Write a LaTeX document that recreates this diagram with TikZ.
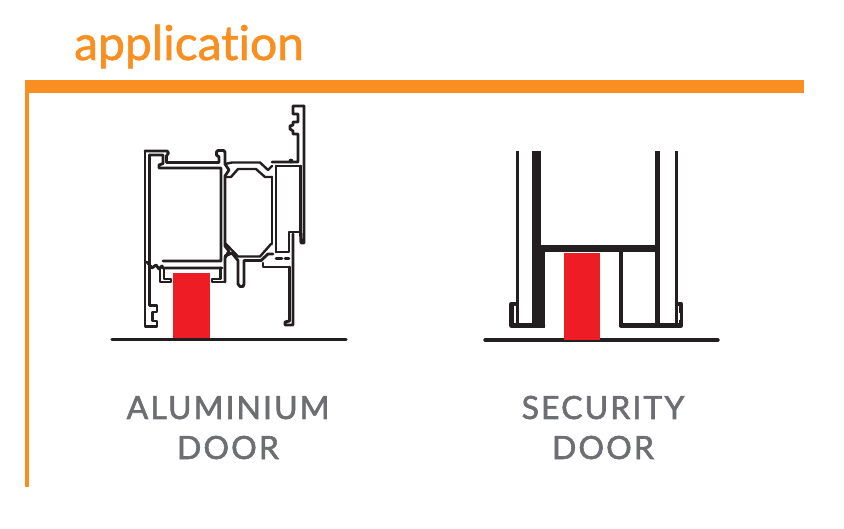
\documentclass[tikz,border=0pt]{standalone}
\usepackage{fontspec}
\setmainfont[Ligatures=NoCommon,FakeBold=1.3]{Lato}
\newfontfamily\spaced[LetterSpace=6.5,FakeBold=1.8]{Lato}
\definecolor{orng}{HTML}{F88F20}
\definecolor{ink}{HTML}{231F20}
\definecolor{redb}{HTML}{EE1C25}
\definecolor{txt}{HTML}{6D6E71}
\tikzset{
 prof/.style={draw=ink,line width=2.9pt,line join=round,line cap=round},
 thin/.style={draw=ink,line width=2.4pt,line join=round,line cap=round},
 base/.style={draw=ink,line width=3.4pt,line cap=round},
 lbl/.style={text=txt,font=\spaced\fontsize{32}{32}\selectfont,inner sep=0pt,anchor=base},
}
\begin{document}
\begin{tikzpicture}[x=1pt,y=-1pt]
\useasboundingbox (0,0) rectangle (844,529);
% frame
\fill[orng] (25,80) rectangle (804,93);
\fill[orng] (25,80) rectangle (29,487);
\node[text=orng,font=\fontsize{48}{48}\selectfont,inner sep=0pt,anchor=base west] (title) at (74,60) {application};
% aluminium: left sash
\draw[prof] (145,151) -- (167,151) -- (168.5,153) -- (166.5,156) -- (166.5,162.5) -- (219,162.5) -- (219,157) -- (216.5,155) -- (216.5,152) -- (218,150.5) -- (223.5,150.5) -- (225,152) -- (225,164) -- (229,170) -- (225,176) -- (225,246) -- (229,251) -- (225,258) -- (225,282);
\draw[prof] (145,151) -- (145,326.5) -- (157,326.5) -- (157,321) -- (152.5,321) -- (152.5,312) -- (157,312) -- (157,305.5) -- (149.5,305.5);
\draw[prof] (149.5,155) -- (163,155) -- (163,163.5) -- (159,165) -- (159,168) -- (221,168) -- (221,261) -- (163,261);
\draw[prof] (149.5,155) -- (149.5,305);
\draw[prof] (147,262) -- (152,268) -- (156,265) -- (159,269) -- (162,266) -- (163,268) -- (222,268);
\draw[prof] (160,268) -- (160,282) -- (171,282) -- (171,279) -- (164,279) -- (164,269);
\draw[prof] (225,268) -- (225,282) -- (212,282) -- (212,279) -- (220.5,279) -- (220.5,268);
% aluminium: thermal break
\draw[thin] (225,164) -- (232,162.5) -- (260,162.5) -- (268,170) -- (272,166);
\draw[thin] (226,177) -- (231,177) -- (238,169) -- (256,169) -- (265,177) -- (272,177);
\draw[prof] (272,177) -- (272,244);
\draw[prof] (276,166) -- (276,252);
\draw[thin] (225,243) -- (238,256.5) -- (260,256.5) -- (271,244);
\draw[prof] (225,256) -- (232,253) -- (238,260.5) -- (238,284) -- (240,286.5) -- (243,286.5) -- (244,284) -- (244,260.5) -- (261,260.5) -- (268,254) -- (273,254);
\draw[prof] (263,263) -- (263,267) -- (289.5,267);
% aluminium: right frame
\draw[prof] (276,166) -- (301,166);
\draw[prof] (300.5,166) -- (300.5,232) -- (289,232) -- (289,252) -- (276,252);
\draw[prof] (304,106) -- (293,106) -- (293,114) -- (298,114) -- (298,122) -- (293,122) -- (293,125) -- (290,126) -- (290,129) -- (293,131) -- (293,134) -- (298,134) -- (298,162) -- (272,162);
\draw[prof] (304,106) -- (304,243) -- (301,243) -- (300.5,232);
\draw[prof] (293,234) -- (293,325) -- (285,325) -- (285,322) -- (289.5,321) -- (289.5,267);
\fill[ink] (291,161) circle (2.4pt);
\draw[prof] (276,258.5) -- (282,258.5);
\draw[prof] (285,258.5) -- (289,258.5);
% security door
\fill[ink] (515.5,151) rectangle (518.5,323);
\fill[ink] (674.5,151) rectangle (677.5,323);
\fill[ink] (532,151) rectangle (540.5,245);
\fill[ink] (532,245) rectangle (545,328);
\fill[ink] (654.5,151) rectangle (660,323);
\fill[ink] (540,245) rectangle (654.5,252);
\draw[draw=ink,line width=4pt] (654,248) -- (621,248) -- (621,326);
\draw[ink,line width=4.5pt,line join=round,line cap=round] (515,304) -- (511.5,304) -- (511.5,325.5) -- (543,325.5);
\draw[ink,line width=4.5pt,line join=round,line cap=round] (677,304) -- (681,304) -- (681,325.5) -- (621,325.5);
\draw[white,line width=.8pt] (514,313) -- (514,320);
\draw[white,line width=.8pt] (679,313) -- (679,320);
% base lines
\draw[base] (112,339.5) -- (346,339.5);
\draw[base] (485,340) -- (718,340);
% red blocks
\fill[redb] (173,273) rectangle (210,338);
\fill[redb] (564,253) rectangle (600,340);
% labels
\node[lbl] (alu) at (228,419) {ALUMINIUM};
\node[lbl] (dooralu) at (228,459) {DOOR};
\node[lbl] (sec) at (603,419) {SECURITY};
\node[lbl] (doorsec) at (603,459) {DOOR};
\end{tikzpicture}
\end{document}
